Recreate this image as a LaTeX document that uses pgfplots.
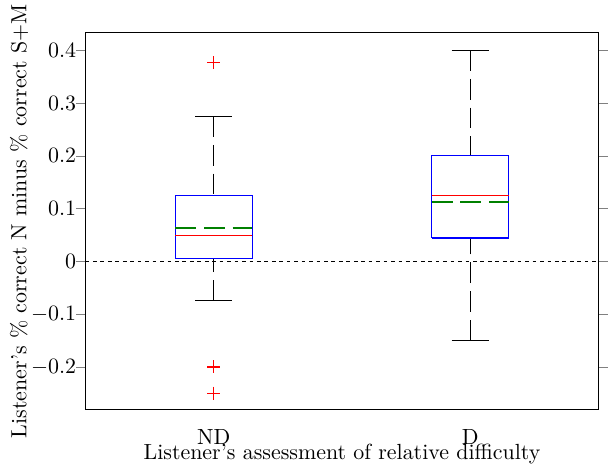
\documentclass[border=0pt]{standalone}
\usepackage{pgfplots}
\pgfplotsset{compat=1.18}
\definecolor{mgreen}{rgb}{0,0.5,0}
\begin{document}
\begin{tikzpicture}
\begin{axis}[
    scale only axis,
    width=234pt, height=172pt,
    xmin=0.5, xmax=2.5,
    ymin=-0.281, ymax=0.433,
    xtick={1,2}, xticklabels={ND,D},
    xtick style={draw=none},
    ytick={-0.2,-0.1,0,0.1,0.2,0.3,0.4},
    ytick pos=both,
    tick align=outside,
    major tick length=4.3pt,
    axis line style={line width=0.65pt},
    xlabel={Listener's assessment of relative difficulty},
    ylabel={Listener's \% correct N minus \% correct S+M},
    every axis x label/.style={at={(axis description cs:0.5,0)}, anchor=north, inner sep=0pt, yshift=-15.6pt},
    every axis y label/.style={at={(axis description cs:0,0.5)}, xshift=-30.4pt, rotate=90, anchor=center, inner xsep=2pt, inner ysep=4.5pt},
    xticklabel style={yshift=-1.3pt},
    yticklabel style={xshift=3.5pt},
    whisk/.style={black, line width=0.5pt, dash pattern=on 9.5pt off 3.6pt},
    solidline/.style={line width=0.5pt},
]
% zero reference line
\addplot[black, line width=0.55pt, dash pattern=on 1.7pt off 1.7pt] coordinates {(0.5,0) (2.5,0)};

% ND: whiskers (from cap toward box) and caps
\addplot[whisk] coordinates {(1,0.275) (1,0.125)};
\addplot[whisk] coordinates {(1,-0.075) (1,0.006)};
\addplot[black, solidline] coordinates {(0.9275,0.275) (1.0725,0.275)};
\addplot[black, solidline] coordinates {(0.9275,-0.075) (1.0725,-0.075)};
% ND box and median
\addplot[blue, line width=0.6pt] coordinates {(0.85,0.006) (1.15,0.006) (1.15,0.125) (0.85,0.125) (0.85,0.006)};
\addplot[red, line width=0.75pt] coordinates {(0.85,0.049) (1.15,0.049)};
% ND outliers
\addplot[draw=red, only marks, mark=+, mark size=3pt, mark options={solid, draw=red, line width=0.55pt}] coordinates {(1,0.376) (1,-0.2) (1,-0.25)};

% D: whiskers and caps
\addplot[whisk] coordinates {(2,0.4) (2,0.2)};
\addplot[whisk] coordinates {(2,-0.15) (2,0.044)};
\addplot[black, solidline] coordinates {(1.9275,0.4) (2.0725,0.4)};
\addplot[black, solidline] coordinates {(1.9275,-0.15) (2.0725,-0.15)};
% D box and median
\addplot[blue, line width=0.6pt] coordinates {(1.85,0.044) (2.15,0.044) (2.15,0.2) (1.85,0.2) (1.85,0.044)};
\addplot[red, line width=0.75pt] coordinates {(1.85,0.125) (2.15,0.125)};

% means
\addplot[mgreen, line width=0.65pt, dash pattern=on 9.5pt off 3.6pt] coordinates {(0.85,0.063) (1.15,0.063)};
\addplot[mgreen, line width=0.65pt, dash pattern=on 9.5pt off 3.6pt] coordinates {(1.85,0.112) (2.15,0.112)};
\end{axis}
\end{tikzpicture}
\end{document}
